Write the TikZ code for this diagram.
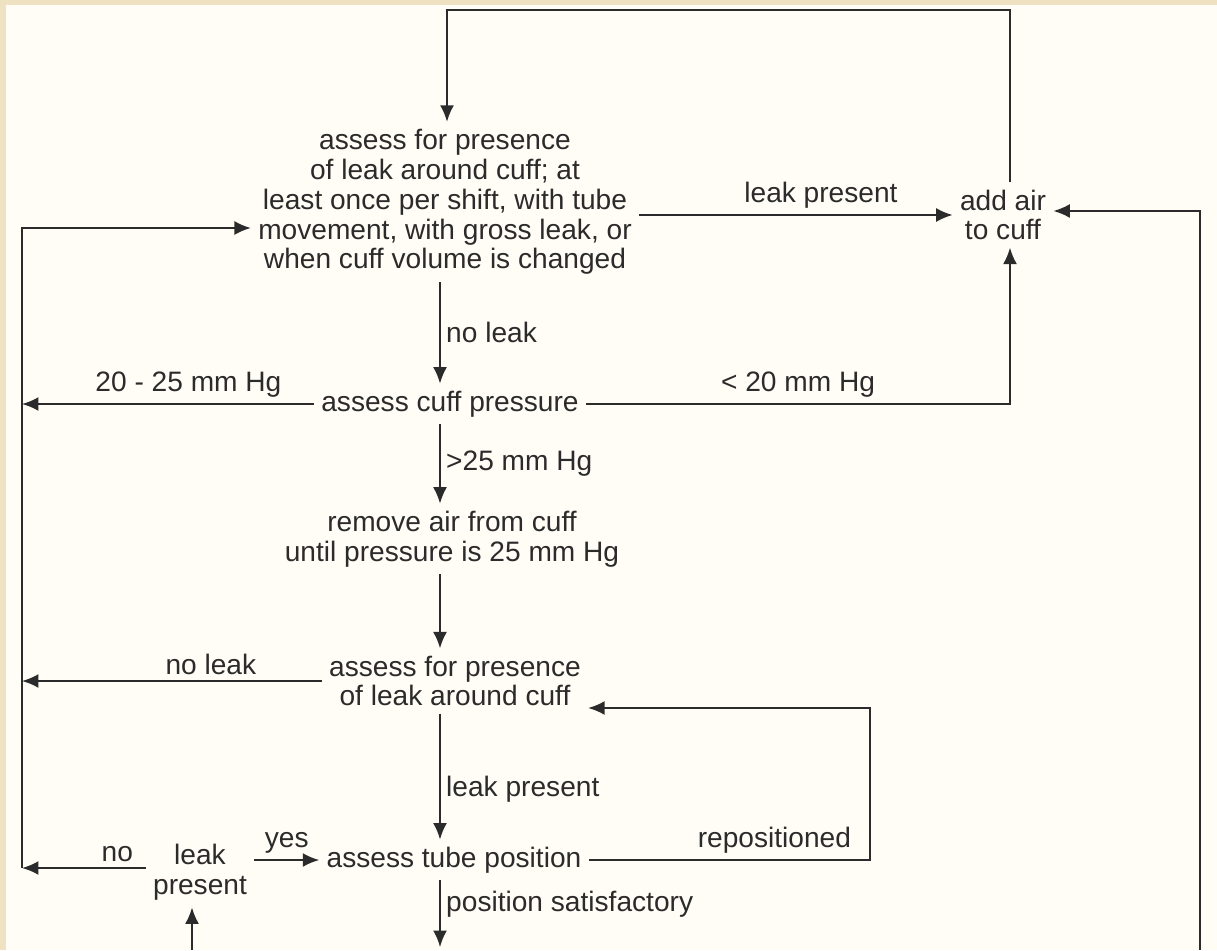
\documentclass[tikz,border=0pt]{standalone}
\usepackage{fontspec}
\setmainfont{Liberation Sans}
\usetikzlibrary{arrows.meta,positioning,calc}
\definecolor{beige}{HTML}{EEE2C2}
\definecolor{paper}{HTML}{FFFDF6}
\definecolor{ink}{HTML}{2B2B2B}

\begin{document}
\begin{tikzpicture}[x=0.02cm, y=-0.02cm,
        every node/.style={text=ink, font=\fontsize{16}{17}\selectfont},
        stepbox/.style={align=center, inner sep=4pt},
        lbl/.style={inner sep=3pt},
        arrow/.style={-{Latex[length=3.3mm,width=2.8mm]}, draw=ink, line width=1.1pt}
    ]
    % Fundo
    \fill[beige] (0,0) rectangle (1217,950);
    \fill[paper] (6,5) rectangle (1217,950);
    \useasboundingbox (0,0) rectangle (1217,950);

    \node[stepbox] (assess1) at (445,202) {assess for presence\\of leak around cuff; at\\least once per shift, with tube\\movement, with gross leak, or\\when cuff volume is changed};
    \node[stepbox] (addair) at (1003,215) {add air\\to cuff};
    \node[stepbox] (cuffp) at (450,404) {assess cuff pressure};
    \node[stepbox] (remove) at (452,539) {remove air from cuff\\until pressure is 25 mm Hg};
    \node[stepbox] (leak2) at (455,681) {assess for presence\\of leak around cuff};
    \node[stepbox] (tubepos) at (454,860) {assess tube position};
    \node[stepbox] (leakp) at (200,872) {leak\\present};

    \coordinate (spine) at (440,0);
    \coordinate (toploop) at (447,10);
    \coordinate (lbus) at (22,868);
    \coordinate (lentry) at (22,228);
    \coordinate (rbus) at (1200,950);
    \coordinate (reloop) at (870,708);
    \coordinate (bottomout) at (440,947);
    \coordinate (bottomin) at (192,950);

    % Setas
    \draw[arrow] (addair.north -| 1010,0) |- (toploop) -- (toploop |- assess1.north);
    \draw[arrow] (lbus) -- (lentry) -- (lentry -| assess1.west);
    \draw[arrow] (assess1.east |- addair.west) -- node[lbl, above, pos=0.58] {leak present} (addair.west);
    \draw[arrow] (rbus) |- ($(addair.east)+(0,-4)$);
    \draw[arrow] (assess1.south -| spine) -- node[lbl, right] {no leak} (cuffp.north -| spine);
    \draw[arrow] (cuffp.west) -- node[lbl, above, pos=0.43] {20 - 25 mm Hg} (cuffp.west -| lbus);
    \draw[arrow] (cuffp.east) -| node[lbl, above, pos=0.25] {< 20 mm Hg} (addair.south -| 1010,0);
    \draw[arrow] (cuffp.south -| spine) -- node[lbl, right] {>25 mm Hg} (remove.north -| spine);
    \draw[arrow] (remove.south -| spine) -- (leak2.north -| spine);
    \draw[arrow] (leak2.west) -- node[lbl, above, pos=0.37] {no leak} (leak2.west -| lbus);
    \draw[arrow] (leak2.south -| spine) -- node[lbl, right, pos=0.6] {leak present} (tubepos.north -| spine);
    \draw[arrow] (tubepos.east) -| node[lbl, above, pos=0.33] {repositioned} (reloop) -- (reloop -| leak2.east);
    \draw[arrow] (tubepos.south -| spine) -- node[lbl, right, pos=0.35] {position satisfactory} (bottomout);
    \draw[arrow] (leakp.east |- tubepos.west) -- node[lbl, above] {yes} (tubepos.west);
    \draw[arrow] (leakp.west |- lbus) -- node[lbl, above, pos=0.23] {no} (lbus);
    \draw[arrow] (bottomin) -- (bottomin |- leakp.south);
\end{tikzpicture}
\end{document}
